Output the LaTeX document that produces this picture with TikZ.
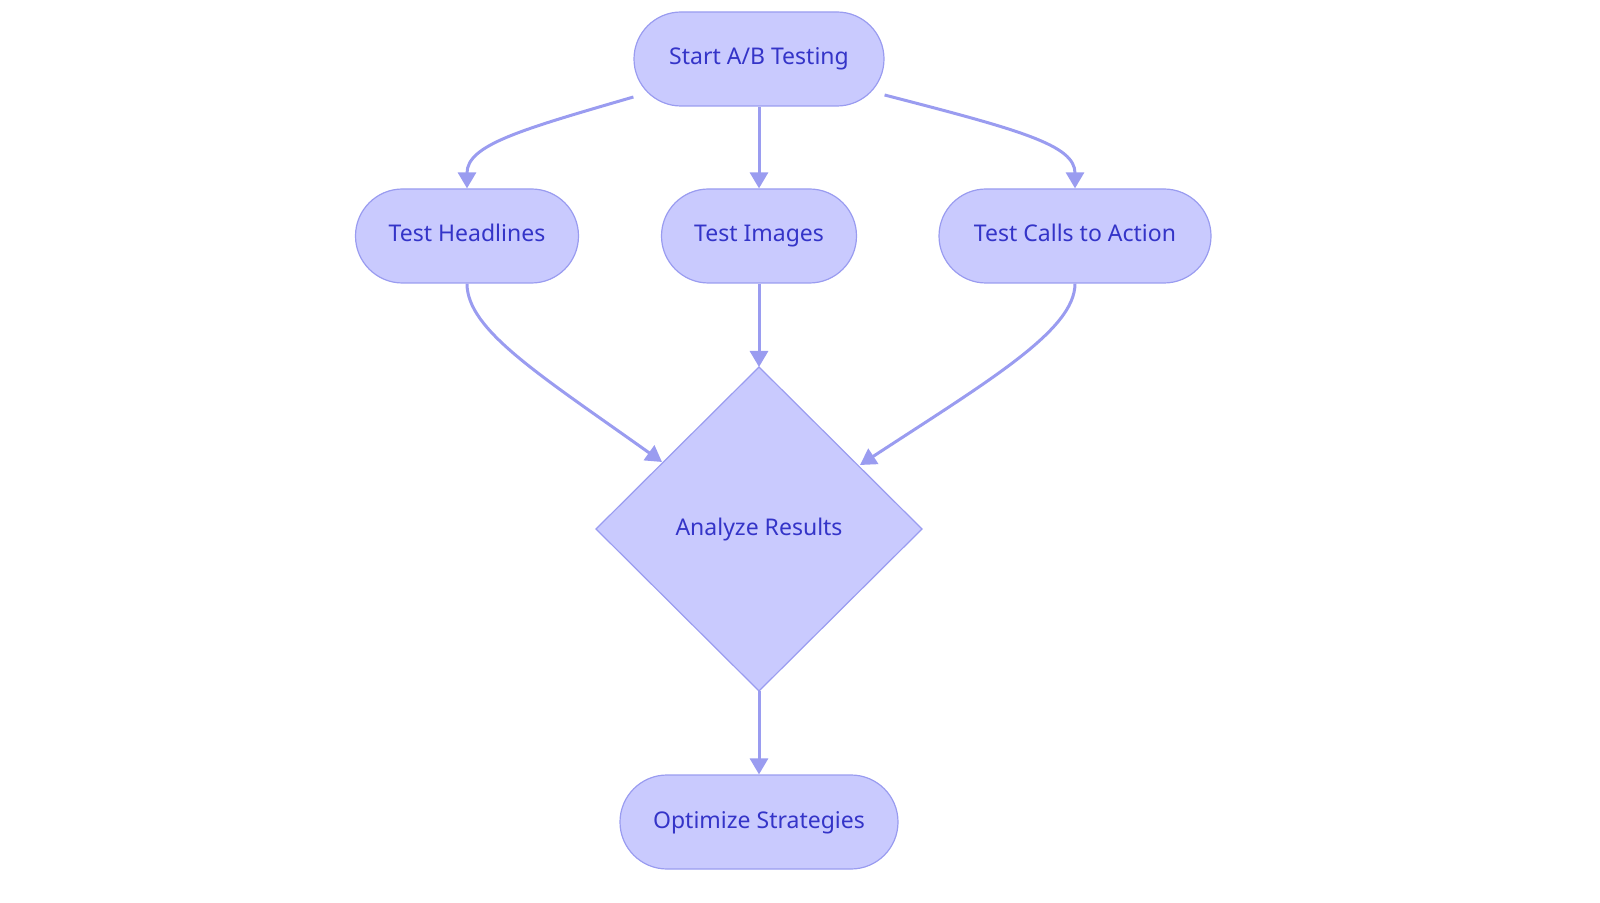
\documentclass[tikz,border=0pt]{standalone}
\usepackage{fontspec}
\setmainfont{Noto Sans}
\usetikzlibrary{shapes.geometric,arrows.meta}
\definecolor{nfill}{HTML}{C9CAFE}
\definecolor{nline}{HTML}{9A9CF0}
\definecolor{ntext}{HTML}{3434C8}
\begin{document}
\begin{tikzpicture}[x=0.5pt,y=-0.5pt,
 pill/.style={draw=nline,fill=nfill,rounded corners=23.5pt,minimum height=47pt,text=ntext,font=\fontsize{11.5}{14}\selectfont,line width=0.6pt,inner sep=0pt,text height=8.5pt,text depth=2.5pt},
 arr/.style={draw=nline,line width=1.5pt,-{Triangle[length=8pt,width=9pt]}}]
\useasboundingbox (0,0) rectangle (1600,903);
\node[pill,minimum width=125pt] (s) at (759,59) {Start A/B Testing};
\node[pill,minimum width=111.5pt] (h) at (467,236) {Test Headlines};
\node[pill,minimum width=97.5pt] (i) at (759,236) {Test Images};
\node[pill,minimum width=136pt] (c) at (1075,236) {Test Calls to Action};
\node[pill,minimum width=139pt] (o) at (759,822) {Optimize Strategies};
\draw[draw=nline,fill=nfill,line width=0.6pt] (759,367) coordinate (dt) -- (922,529) -- (759,691) coordinate (db) -- (596,529) -- cycle;
\node[text=ntext,font=\fontsize{11.5}{14}\selectfont,text height=8.5pt,text depth=2.5pt] (d) at (759,529) {Analyze Results};
\coordinate (dl) at (662,462);
\coordinate (dr) at (860,465);
\draw[arr] (s.south) -- (i.north);
\draw[arr] ([yshift=-19pt]s.west) .. controls (520,130) and (467,145) .. (h.north);
\draw[arr] ([yshift=-18pt]s.east) .. controls (1020,130) and (1075,145) .. (c.north);
\draw[arr] (i.south) -- (dt);
\draw[arr] (h.south) .. controls (467,330) and (540,375) .. (dl);
\draw[arr] (c.south) .. controls (1075,330) and (990,380) .. (dr);
\draw[arr] (db) -- (o.north);
\end{tikzpicture}
\end{document}
